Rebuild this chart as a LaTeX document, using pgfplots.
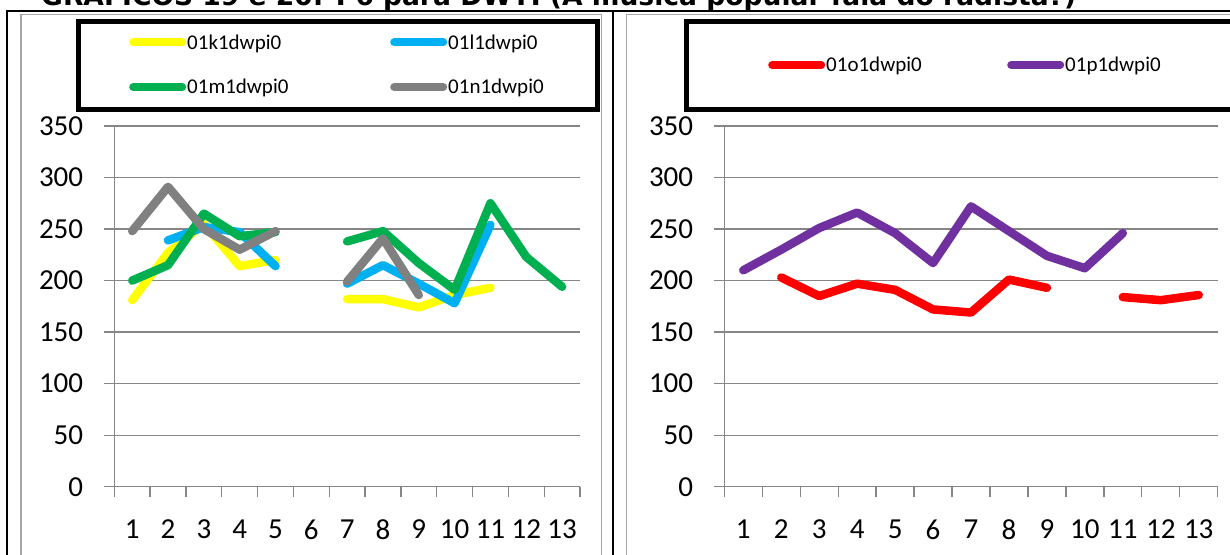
\documentclass[border=0pt]{standalone}
\usepackage{pgfplots}
\pgfplotsset{compat=1.18}
\usepackage{fontspec}
\setmainfont{Carlito}
\newfontfamily\titlefont{DejaVu Sans}

\definecolor{cyel}{HTML}{FFFF00}
\definecolor{cblu}{HTML}{00B0F0}
\definecolor{cgrn}{HTML}{00B050}
\definecolor{cgry}{HTML}{808080}
\definecolor{cred}{HTML}{FF0000}
\definecolor{cpur}{HTML}{7030A0}
\definecolor{gridgrey}{HTML}{868686}
\definecolor{framegrey}{HTML}{A6A6A6}

% responses per item, nan = no answer
\pgfplotstableread{
x  k    l    m    n
1  181  nan  200  248
2  227  239  215  291
3  255  252  265  250
4  214  247  243  230
5  220  214  247  248
6  nan  nan  nan  nan
7  182  197  238  199
8  182  215  248  241
9  174  197  217  186
10 186  178  191  nan
11 193  254  275  nan
12 nan  nan  223  nan
13 nan  nan  194  nan
}\tabA
\pgfplotstableread{
x  o    p
1  nan  210
2  203  230
3  185  251
4  197  266
5  191  246
6  172  217
7  169  272
8  201  248
9  193  224
10 nan  212
11 184  246
12 181  nan
13 186  nan
}\tabB

\pgfplotsset{
  panel/.style={
    scale only axis,
    height=360.7pt,
    ymin=0, ymax=350, ytick={0,50,...,350},
    xmin=0.5, xmax=13.5,
    xtick={1,...,13},
    minor xtick={0.5,1.5,...,13.5},
    axis x line*=bottom, axis y line*=left,
    axis line style={draw=gridgrey, line width=1.3pt, -},
    ymajorgrids, grid style={draw=gridgrey, line width=1.3pt},
    tick align=outside,
    major tick length=10pt, minor tick length=10pt,
    major x tick style={draw=none},
    minor x tick style={draw=gridgrey, line width=1.3pt},
    major y tick style={draw=gridgrey, line width=1.3pt},
    /pgf/number format/assume math mode=true,
    tick label style={font=\fontsize{29}{34}\selectfont, inner sep=0pt},
    xticklabel style={yshift=-23pt},
    yticklabel style={xshift=-21pt},
    unbounded coords=jump,
    every axis plot/.append style={line width=8.5pt, line join=round, line cap=round},
    legend cell align=left,
    legend image code/.code={\draw[##1, line width=8pt, line cap=round] (4pt,0pt) -- (53pt,0pt);},
    legend style={draw=none, fill=none, inner sep=0pt,
      font=\fontsize{21}{25}\selectfont,
      nodes={inner sep=1pt}, row sep=26.5pt,
      /tikz/every even column/.append style={column sep=0pt}},
  }
}

\begin{document}
\begin{tikzpicture}[x=1pt,y=1pt]
% heading (partly above the page edge)
\node[anchor=base west, inner sep=0pt] at (41pt,548pt)
  {\resizebox{1035pt}{!}{\titlefont\bfseries\fontsize{24}{28}\selectfont GRÁFICOS 19 e 20: P6 para DWYI (A música popular fala do radista?)}};

% cell frames
\draw[line width=2pt] (7,-10) -- (7,543) -- (1240,543);
\draw[line width=2pt] (613,-10) -- (613,543);
\draw[framegrey, line width=1.2pt] (21,-10) -- (21,539.5) -- (601.5,539.5) -- (601.5,-10);
\draw[framegrey, line width=1.2pt] (626.7,-10) -- (626.7,539.5) -- (1240,539.5);

% legend frames
\draw[line width=5pt] (78.5,532.5) rectangle (597.5,444.5);
\draw[line width=5pt] (686.5,532.5) rectangle (1245,444.5);

\begin{axis}[panel, width=465.7pt,
  at={(114.3pt,67.3pt)}, anchor=south west,
  legend columns=2,
  legend style={at={(axis description cs:0.0316,1.1698)}, anchor=west}]
\addplot[cyel] table[x=x,y=k] {\tabA};
\addlegendentry{\makebox[202pt][l]{01k1dwpi0}}
\addplot[cblu] table[x=x,y=l] {\tabA};
\addlegendentry{01l1dwpi0}
\addplot[cgrn] table[x=x,y=m] {\tabA};
\addlegendentry{\makebox[202pt][l]{01m1dwpi0}}
\addplot[cgry] table[x=x,y=n] {\tabA};
\addlegendentry{01n1dwpi0}
\end{axis}

\begin{axis}[panel, width=493.4pt,
  at={(724.3pt,67.3pt)}, anchor=south west,
  legend columns=2,
  legend style={at={(axis description cs:0.0886,1.1691)}, anchor=west}]
\addplot[cred] table[x=x,y=o] {\tabB};
\addlegendentry{\makebox[180pt][l]{01o1dwpi0}}
\addplot[cpur] table[x=x,y=p] {\tabB};
\addlegendentry{01p1dwpi0}
\end{axis}

\pgfresetboundingbox
\path[use as bounding box] (0,0) rectangle (1230,554);
\end{tikzpicture}
\end{document}
